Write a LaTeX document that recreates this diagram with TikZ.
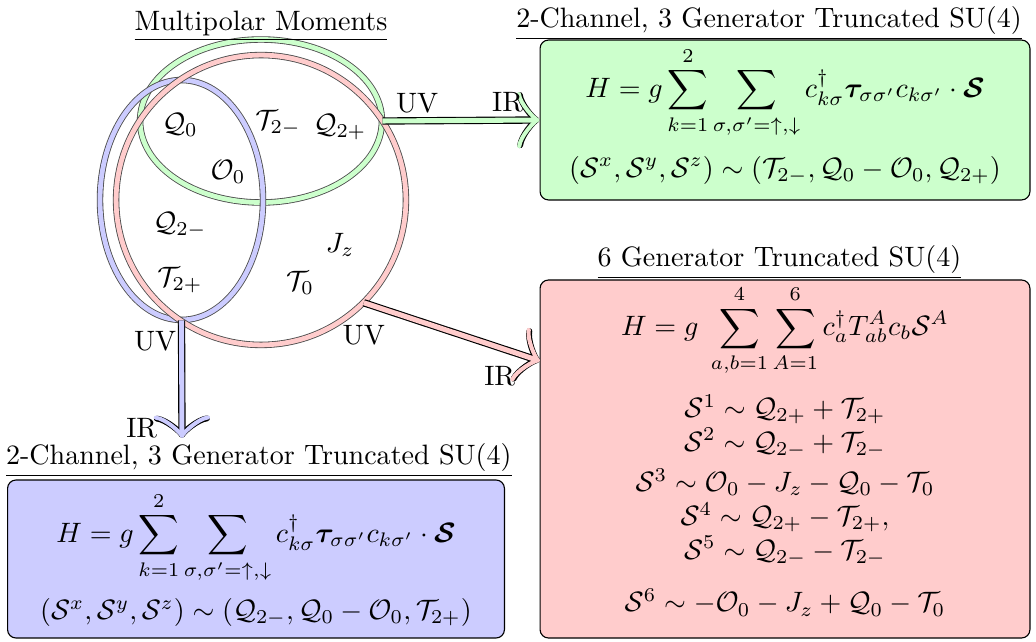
\documentclass[tikz,border=0pt]{standalone}
\usepackage{xcolor}
\usepackage{tikz}
\usetikzlibrary{arrows.meta,positioning,shapes.geometric}
\usepackage{amsmath,amssymb,bm}

\begin{document}
\begin{tikzpicture}[
  x=0.01253cm, y=-0.01253cm,
  ring/.style={ellipse, draw=black!70, line width=0.3pt, double distance=1.7pt, inner sep=0pt},
  box/.style={draw, rounded corners=3pt, inner sep=0pt},
  eqs/.style={align=center, inner sep=0pt},
  heading/.style={inner sep=1pt},
  lbl/.style={inner sep=1pt, text=black},
  flow/.style={line width=1.8pt, -{Classical TikZ Rightarrow[length=8pt, width=20pt, round]},
    preaction={draw=black, line width=2.6pt, -{Classical TikZ Rightarrow[length=8pt, width=20pt, round]}}}
]
\useasboundingbox (0,0) rectangle (1036,642);

% moments
\node[ring, double=green!20, minimum width=86.2pt, minimum height=58.1pt] (green) at (261,121) {};
\node[ring, double=blue!20, minimum width=58.1pt, minimum height=85.5pt] (blue) at (181.5,200) {};
\node[ring, double=red!20, minimum width=103.3pt, minimum height=103.3pt] (pink) at (261,200) {};
\node[heading, above=-2pt of green] (mmtitle) {\underline{Multipolar Moments}};

\node (q0) at (180,125) {$\mathcal{Q}_0$};
\node (t2m) at (278,123) {$\mathcal{T}_{2-}$};
\node (q2p) at (340,127) {$\mathcal{Q}_{2+}$};
\node (o0) at (228,172) {$\mathcal{O}_0$};
\node (q2m) at (180,225) {$\mathcal{Q}_{2-}$};
\node (jz) at (340,245) {$J_z$};
\node (t2p) at (180,280) {$\mathcal{T}_{2+}$};
\node (t0) at (300,283) {$\mathcal{T}_0$};

% hamiltonians
\node[box, fill=green!20, minimum width=174.6pt, minimum height=57pt] (hgreen) at (785,120) {};
\node[eqs, yshift=1.6pt] (egreen) at (hgreen) {%
  $\displaystyle H = g\sum_{k=1}^{2}\sum_{\sigma,\sigma'=\uparrow,\downarrow} c^\dagger_{k\sigma}\boldsymbol{\tau}_{\sigma\sigma'}c_{k\sigma'}\cdot\boldsymbol{\mathcal{S}}$\\[5.5pt]
  $(\mathcal{S}^x,\mathcal{S}^y,\mathcal{S}^z)\sim(\mathcal{T}_{2-},\mathcal{Q}_0-\mathcal{O}_0,\mathcal{Q}_{2+})$};
\node[heading, above=-1.3pt of hgreen, xshift=-5.7pt] (tgreen) {\underline{2-Channel, 3 Generator Truncated SU(4)}};

\node[box, fill=red!20, minimum width=174.6pt, minimum height=127.6pt] (hpink) at (785,459) {};
\node[eqs, yshift=3pt] (epink) at (hpink) {%
  $\displaystyle H = g\;\sum_{a,b=1}^{4}\sum_{A=1}^{6} c^\dagger_a T^A_{ab} c_b \mathcal{S}^A$\\[5.6pt]
  $\mathcal{S}^1\sim\mathcal{Q}_{2+}+\mathcal{T}_{2+}$\\
  $\mathcal{S}^2\sim\mathcal{Q}_{2-}+\mathcal{T}_{2-}$\\[2.5pt]
  $\mathcal{S}^3\sim\mathcal{O}_0-J_z-\mathcal{Q}_0-\mathcal{T}_0$\\
  $\mathcal{S}^4\sim\mathcal{Q}_{2+}-\mathcal{T}_{2+},$\\
  $\mathcal{S}^5\sim\mathcal{Q}_{2-}-\mathcal{T}_{2-}$\\[6.8pt]
  $\mathcal{S}^6\sim-\mathcal{O}_0-J_z+\mathcal{Q}_0-\mathcal{T}_0$};
\node[heading, above=-1.2pt of hpink, xshift=-2pt] (tpink) {\underline{6 Generator Truncated SU(4)}};

\node[box, fill=blue!20, minimum width=177.1pt, minimum height=56.3pt] (hblue) at (256,559) {};
\node[eqs] (eblue) at (hblue) {%
  $\displaystyle H = g\sum_{k=1}^{2}\sum_{\sigma,\sigma'=\uparrow,\downarrow} c^\dagger_{k\sigma}\boldsymbol{\tau}_{\sigma\sigma'}c_{k\sigma'}\cdot\boldsymbol{\mathcal{S}}$\\[4.5pt]
  $(\mathcal{S}^x,\mathcal{S}^y,\mathcal{S}^z)\sim(\mathcal{Q}_{2-},\mathcal{Q}_0-\mathcal{O}_0,\mathcal{T}_{2+})$};
\node[heading, above=-0.5pt of hblue, xshift=1pt] (tblue) {\underline{2-Channel, 3 Generator Truncated SU(4)}};

% flows
\coordinate (irpink) at (540,361);
\coordinate (irblue) at (182,438);
\draw[flow, green!20] (green.east) -- node[lbl, pos=0, above right=1pt and 3pt]{UV} node[lbl, pos=1, above left=1pt and 4pt]{IR} (hgreen.west);
\draw[flow, red!20] (pink.-45) -- node[lbl, pos=0, below=6pt]{UV} node[lbl, pos=1, below left=0pt and 7pt]{IR} (irpink);
\draw[flow, blue!20] (blue.south) -- node[lbl, pos=0, below left=2pt and 0pt]{UV} node[lbl, pos=1, left=7pt, yshift=3.5pt]{IR} (irblue);
\end{tikzpicture}
\end{document}
